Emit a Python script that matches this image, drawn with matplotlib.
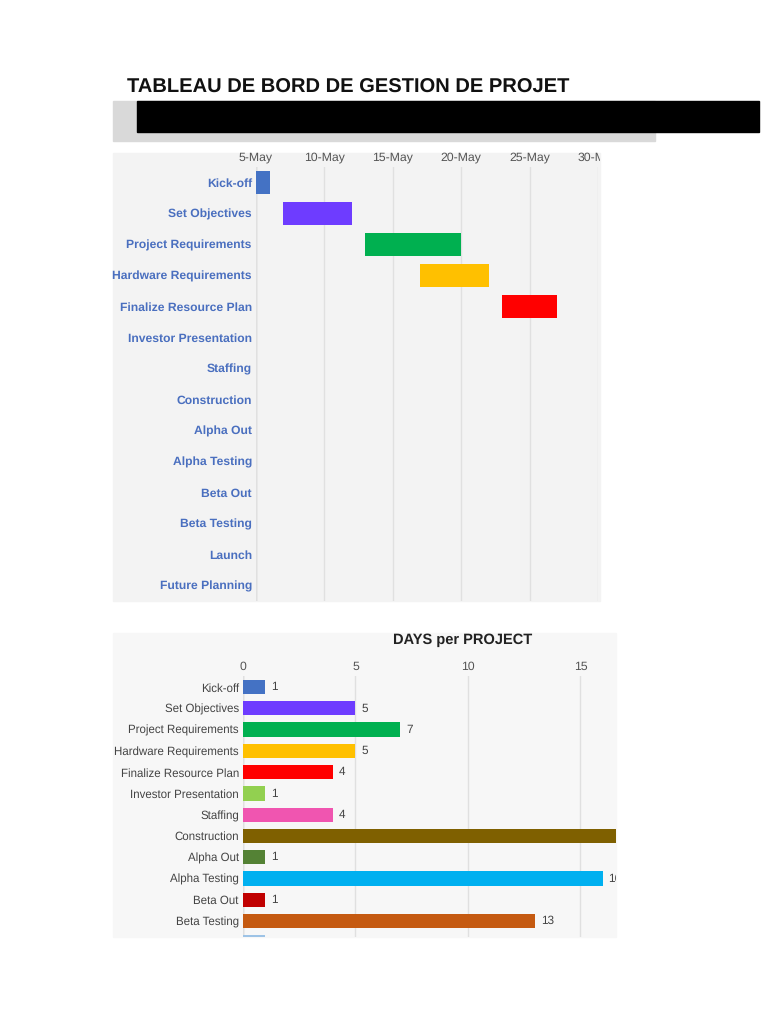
import numpy as np
import matplotlib.pyplot as plt
from matplotlib.patches import Rectangle
from matplotlib.transforms import Bbox, TransformedBbox

plt.rcParams['font.family'] = ['Liberation Sans', 'DejaVu Sans']
plt.rcParams['text.hinting'] = 'no_hinting'

# task list, shared by both charts
tasks = ['Kick-off', 'Set Objectives', 'Project Requirements', 'Hardware Requirements',
         'Finalize Resource Plan', 'Investor Presentation', 'Staffing', 'Construction',
         'Alpha Out', 'Alpha Testing', 'Beta Out', 'Beta Testing', 'Launch', 'Future Planning']
colors = ['#4472c4', '#6e3cff', '#00b050', '#ffc000', '#ff0000', '#92d050', '#f055b0',
          '#7f6000', '#548235', '#00b0f0', '#c00000', '#c55a11', '#9dc3e6', '#4472c4']
start_day = [5, 7, 13, 17, 23, 30, 31, 35, 52, 53, 69, 70, 83, 84]  # day of May
days = [1, 5, 7, 5, 4, 1, 4, 18, 1, 16, 1, 13, 1, 2]

date_ticks = [5, 10, 15, 20, 25, 30]
date_labels = ['5-May', '10-May', '15-May', '20-May', '25-May', '30-May']
day_ticks = [0, 5, 10, 15]

W, H = 768, 1024
fig = plt.figure(figsize=(7.68, 10.24), dpi=100)


def rect(x0, y0, x1, y1):
    # pixel box (top-left origin) -> figure fraction [left, bottom, width, height]
    return [x0 / W, 1 - y1 / H, (x1 - x0) / W, (y1 - y0) / H]


def panel(x0, y0, x1, y1, c):
    r = rect(x0, y0, x1, y1)
    fig.patches.append(Rectangle((r[0], r[1]), r[2], r[3], transform=fig.transFigure,
                                 color=c, zorder=-1))


# header
panel(113, 101, 655, 141, '#d9d9d9')
panel(137, 101, 759, 132, '#000000')
fig.text(127 / W, 1 - 88 / H, 'TABLEAU DE BORD DE GESTION DE PROJET', fontsize=14.5,
         fontweight='bold', va='center', ha='left', color='#111111')

# ---- Gantt chart ----
panel(113, 153, 600, 601, '#f3f3f3')
ax1 = fig.add_axes(rect(256, 167, 598, 601))
ax1.set_facecolor('none')
ax1.barh(range(len(tasks)), days, left=start_day, color=colors, height=0.75, zorder=3)
ax1.set_xlim(5, 30)
ax1.set_ylim(len(tasks) - 0.5, -0.5)
ax1.set_yticks(range(len(tasks)))
ax1.set_yticklabels(tasks, fontsize=8.7, fontweight='bold', color='#4a6fbf')
ax1.xaxis.tick_top()
ax1.set_xticks(date_ticks)
ax1.set_xticklabels(date_labels, fontsize=8.8, color='#555555')
ax1.tick_params(length=0, pad=3)
for s in ax1.spines.values():
    s.set_visible(False)
ax1.grid(axis='x', color='#e0e0e0', lw=1, zorder=0)
ax1.axvline(5, color='#cccccc', lw=1, zorder=1)
clip1 = TransformedBbox(Bbox.from_extents(0, 0, 600 / W, 1), fig.transFigure)
for lbl in ax1.get_xticklabels():
    lbl.set_clip_on(True)
    lbl.set_clip_box(clip1)

# ---- days per project ----
panel(113, 633, 616, 937, '#f7f7f7')
ax2 = fig.add_axes(rect(243, 676.4, 616, 937))
ax2.set_facecolor('none')
ax2.barh(range(len(tasks)), days, color=colors, height=0.67, zorder=3)
ax2.set_xlim(0, 16.58)
ax2.set_ylim(11.75, -0.5)
ax2.set_yticks(range(12))
ax2.set_yticklabels(tasks[:12], fontsize=8.3, color='#444444')
ax2.xaxis.tick_top()
ax2.set_xticks(day_ticks)
ax2.tick_params(length=0, pad=3)
ax2.tick_params(axis='x', labelsize=8.8, labelcolor='#555555')
for s in ax2.spines.values():
    s.set_visible(False)
ax2.grid(axis='x', color='#e0e0e0', lw=1, zorder=0)
ax2.axvline(0, color='#cccccc', lw=1, zorder=1)
for i, v in enumerate(days):
    ax2.annotate(str(v), (v, i), xytext=(4, 0), textcoords='offset points', va='center',
                 fontsize=8.5, color='#444444', annotation_clip=True, clip_on=True)
fig.text(463 / W, 1 - 640 / H, 'DAYS per PROJECT', fontsize=10.5, fontweight='bold',
         ha='center', va='center', color='#222222')

fig.savefig('out.png', dpi=100)
